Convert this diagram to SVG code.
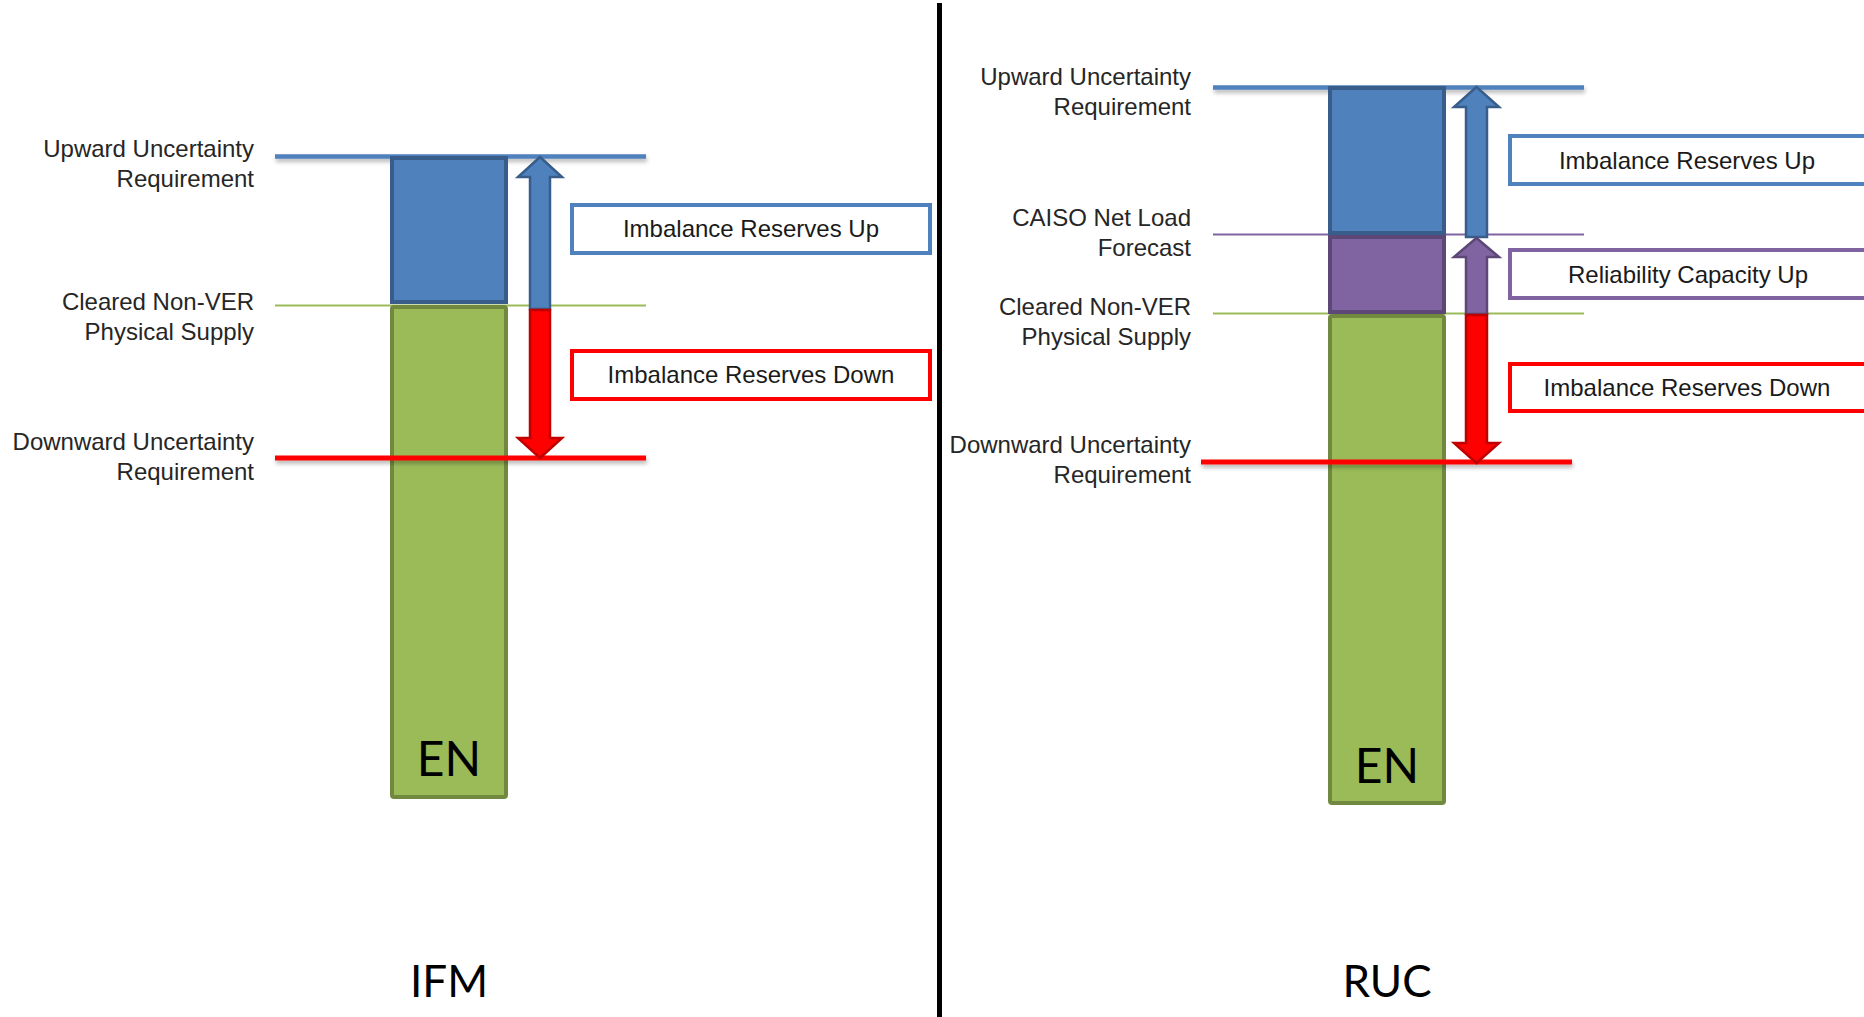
<svg xmlns="http://www.w3.org/2000/svg" width="1864" height="1017" viewBox="0 0 1864 1017">
<defs>
<filter id="sh" filterUnits="userSpaceOnUse" x="0" y="0" width="1864" height="1017">
<feDropShadow dx="1" dy="3" stdDeviation="2" flood-color="#000" flood-opacity="0.3"/>
</filter>
<style>
.lbl{font-family:"Liberation Sans",Arial,sans-serif;font-size:24px;fill:#262626;text-anchor:end}
.btx{font-family:"Liberation Sans",Arial,sans-serif;font-size:24px;fill:#1a1a1a;text-anchor:middle}
.big{font-family:Lato,"Open Sans",sans-serif;fill:#000;text-anchor:middle}
.box{fill:#fff;stroke-width:4}
.bblue{fill:#4F81BD;stroke:#385D8A;stroke-width:4}
.bpurp{fill:#8064A2;stroke:#5C4776;stroke-width:4}
.bgreen{fill:#9BBB59;stroke:#71893F;stroke-width:4}
.ablue{fill:#4F81BD;stroke:#385D8A;stroke-width:2.5}
.apurp{fill:#8064A2;stroke:#5C4776;stroke-width:2.5}
.ared{fill:#FF0000;stroke:#C00000;stroke-width:2.5}
</style>
</defs>
<rect width="1864" height="1017" fill="#fff"/>

<!-- divider -->
<line x1="939.5" y1="3" x2="939.5" y2="1017" stroke="#000" stroke-width="5"/>

<!-- LEFT PANEL (IFM) -->
<g id="ifm-levels">
<line x1="275" y1="156.5" x2="646" y2="156.5" stroke="#4F81BD" stroke-width="4.5" filter="url(#sh)"/>
<line x1="275" y1="305.5" x2="646" y2="305.5" stroke="#9BBB59" stroke-width="1.8"/>
</g>
<g id="ifm-bar-up"><rect class="bblue" x="392" y="158" width="114" height="144"/></g>
<g id="ifm-bar-en">
<rect class="bgreen" x="392" y="307" width="114" height="490" rx="2"/>
<text class="big" x="449" y="776" font-size="48">EN</text>
</g>
<g id="ifm-level-down">
<line x1="275" y1="458" x2="646" y2="458" stroke="#FF0000" stroke-width="5" filter="url(#sh)"/>
</g>
<g id="ifm-label-up"><text class="lbl" x="254" y="157">Upward Uncertainty</text><text class="lbl" x="254" y="187">Requirement</text></g>
<g id="ifm-label-nonver"><text class="lbl" x="254" y="310">Cleared Non-VER</text><text class="lbl" x="254" y="340">Physical Supply</text></g>
<g id="ifm-label-down"><text class="lbl" x="254" y="450">Downward Uncertainty</text><text class="lbl" x="254" y="480">Requirement</text></g>
<g id="ifm-box-iru"><rect class="box" x="572" y="205" width="358" height="48" stroke="#4F81BD"/><text class="btx" x="751" y="237">Imbalance Reserves Up</text></g>
<g id="ifm-box-ird"><rect class="box" x="572" y="351" width="358" height="48" stroke="#FF0000"/><text class="btx" x="751" y="383">Imbalance Reserves Down</text></g>
<g id="ifm-title"><text class="big" x="449" y="997" font-size="44">IFM</text></g>

<!-- RIGHT PANEL (RUC) -->
<g id="ruc-levels">
<line x1="1213" y1="87.5" x2="1584" y2="87.5" stroke="#4F81BD" stroke-width="4.5" filter="url(#sh)"/>
<line x1="1213" y1="234.5" x2="1584" y2="234.5" stroke="#8064A2" stroke-width="1.8"/>
<line x1="1213" y1="313.5" x2="1584" y2="313.5" stroke="#9BBB59" stroke-width="1.8"/>
</g>
<g id="ruc-bar-up"><rect class="bblue" x="1330" y="88" width="114" height="145"/></g>
<g id="ruc-bar-rel"><rect class="bpurp" x="1330" y="237" width="114" height="75"/></g>
<g id="ruc-bar-en">
<rect class="bgreen" x="1330" y="316" width="114" height="487" rx="2"/>
<text class="big" x="1387" y="783" font-size="48">EN</text>
</g>
<g id="ruc-level-down">
<line x1="1201" y1="462" x2="1572" y2="462" stroke="#FF0000" stroke-width="5" filter="url(#sh)"/>
</g>
<g id="ruc-label-up"><text class="lbl" x="1191" y="85">Upward Uncertainty</text><text class="lbl" x="1191" y="115">Requirement</text></g>
<g id="ruc-label-caiso"><text class="lbl" x="1191" y="226">CAISO Net Load</text><text class="lbl" x="1191" y="256">Forecast</text></g>
<g id="ruc-label-nonver"><text class="lbl" x="1191" y="315">Cleared Non-VER</text><text class="lbl" x="1191" y="345">Physical Supply</text></g>
<g id="ruc-label-down"><text class="lbl" x="1191" y="453">Downward Uncertainty</text><text class="lbl" x="1191" y="483">Requirement</text></g>
<g id="ruc-box-iru"><rect class="box" x="1510" y="136" width="358" height="48" stroke="#4F81BD"/><text class="btx" x="1687" y="169">Imbalance Reserves Up</text></g>
<g id="ruc-box-rcu"><rect class="box" x="1510" y="250" width="358" height="48" stroke="#8064A2"/><text class="btx" x="1688" y="283">Reliability Capacity Up</text></g>
<g id="ruc-box-ird"><rect class="box" x="1510" y="364" width="358" height="47" stroke="#FF0000"/><text class="btx" x="1687" y="396">Imbalance Reserves Down</text></g>
<g id="ruc-title"><text class="big" x="1387" y="997" font-size="44">RUC</text></g>

<!-- connectors (arrows) -->
<g id="connectors">
<polygon class="ablue" points="540,157 562,177 550,177 550,309 530,309 530,177 518,177"/>
<polygon class="ared" points="530,310 550,310 550,438 562,438 540,458 518,438 530,438"/>
<polygon class="ablue" points="1476.5,87 1499,107 1487,107 1487,237 1466,237 1466,107 1454,107"/>
<polygon class="apurp" points="1476.5,238 1499,257 1487,257 1487,314 1466,314 1466,257 1454,257"/>
<polygon class="ared" points="1466,315 1487,315 1487,443 1499,443 1476.5,463 1454,443 1466,443"/>
</g>
</svg>
